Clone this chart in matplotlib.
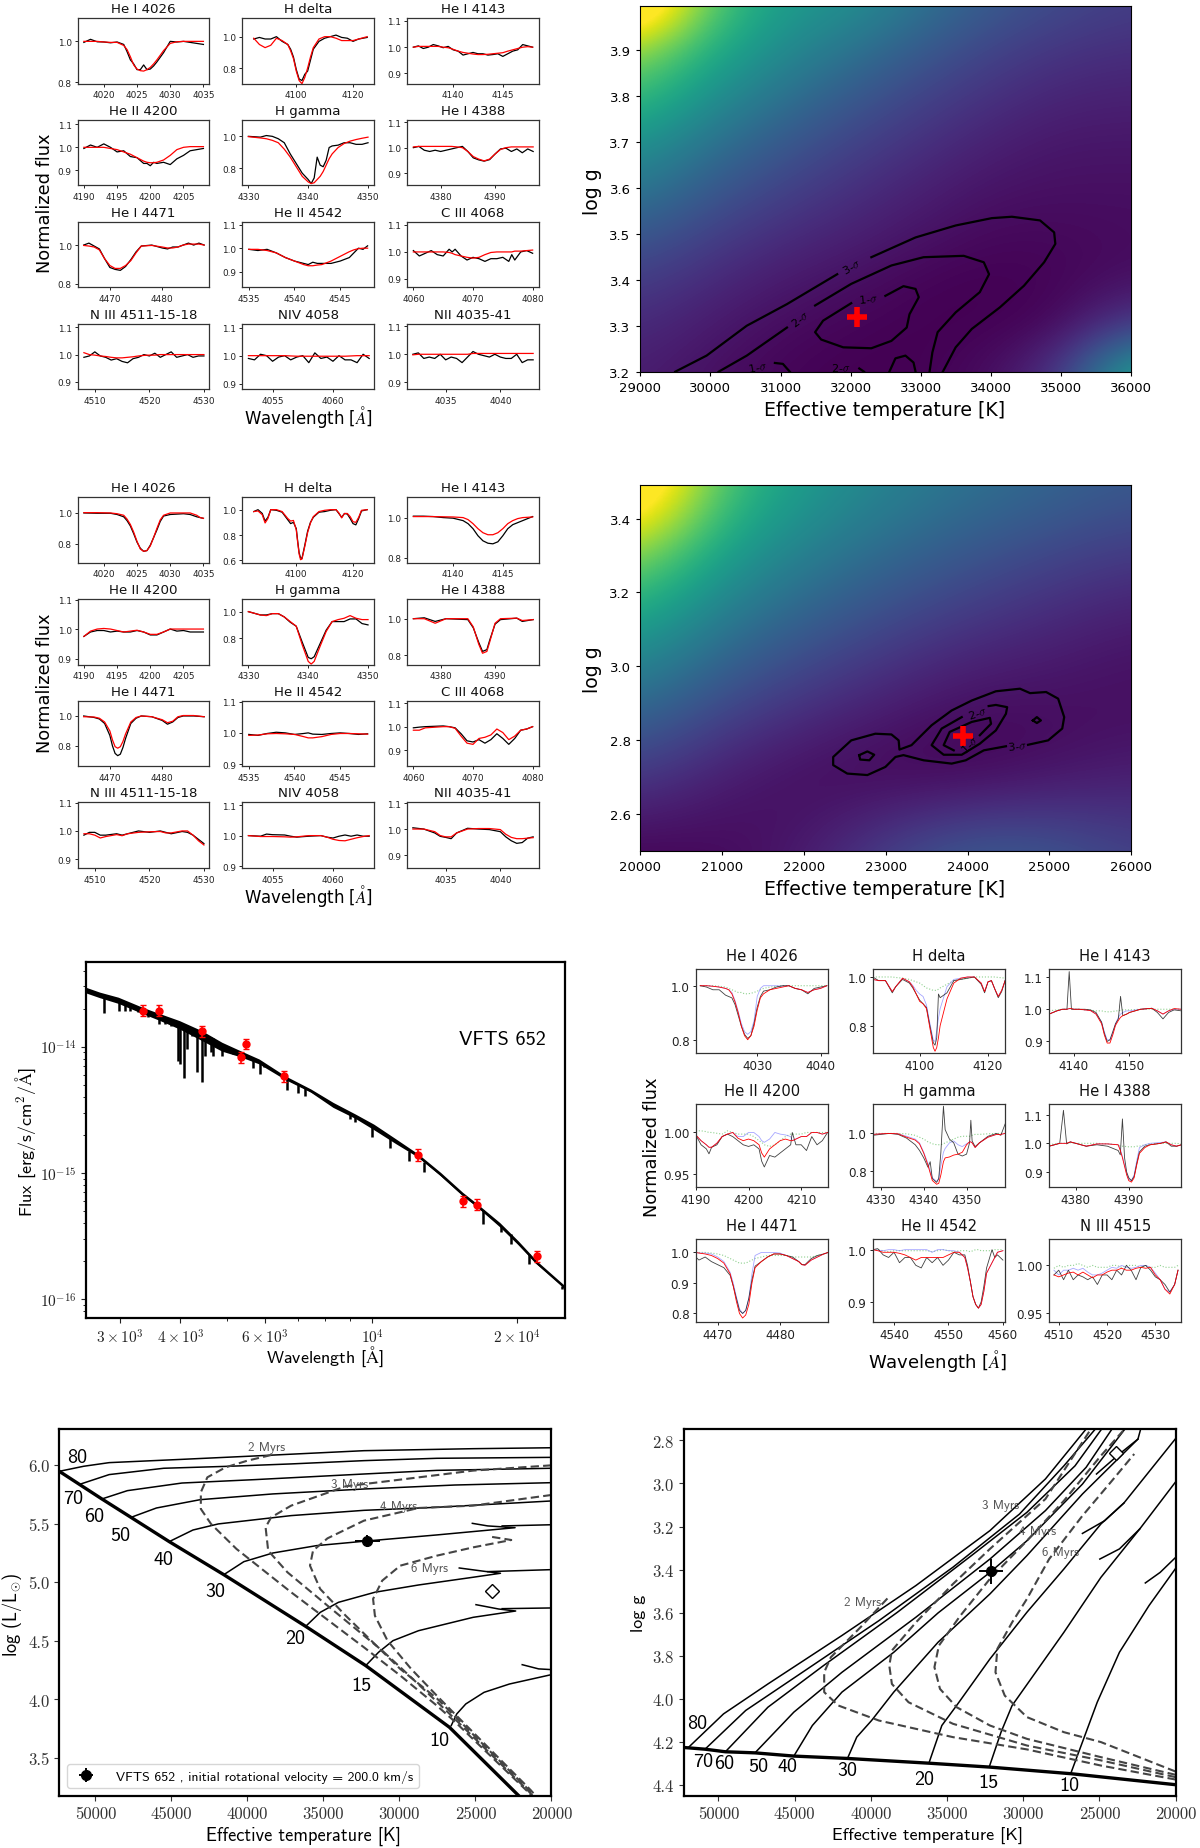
# Spectral fits, chi2 maps, SED and evolutionary tracks for two stars

import numpy as np
import matplotlib
matplotlib.use("Agg")
import matplotlib.pyplot as plt

plt.rcParams['mathtext.fontset'] = 'cm'

W, H = 1200, 1849

titles_a = ["He I 4026", "H delta", "He I 4143", "He II 4200", "H gamma", "He I 4388",
            "He I 4471", "He II 4542", "C III 4068", "N III 4511-15-18", "NIV 4058", "NII 4035-41"]
titles_c = ["He I 4026", "H delta", "He I 4143", "He II 4200", "H gamma", "He I 4388",
            "He I 4471", "He II 4542", "N III 4515"]

xlims_a = [(4016.1, 4035.9), (4081, 4127.4), (4135.4, 4148.6), (4189.1, 4208.9), (4329, 4351), (4373.9, 4398),
           (4463.9, 4489), (4534.3, 4548.7), (4059, 4081), (4506.9, 4531), (4052.5, 4063.4), (4031.5, 4043.5)]
xticks_a = [[4020, 4025, 4030, 4035], [4100, 4120], [4140, 4145], [4190, 4195, 4200, 4205], [4330, 4340, 4350], [4380, 4390],
            [4470, 4480], [4535, 4540, 4545], [4060, 4070, 4080], [4510, 4520, 4530], [4055, 4060], [4035, 4040]]
ylims_a = [(.792, 1.114), (.698, 1.119), (.86, 1.111), (.835, 1.12), (.694, 1.104), (.852, 1.11),
           (.783, 1.12), (.833, 1.113), (.869, 1.112), (.873, 1.113), (.88, 1.114), (.874, 1.11)]
ylims_b = [(.674, 1.104), (.579, 1.1), (.775, 1.102), (.879, 1.103), (.6, 1.0975), (.747, 1.11),
           (.664, 1.102), (.893, 1.103), (.832, 1.11), (.867, 1.102), (.893, 1.109), (.849, 1.103)]
yticks_a = [[.8, 1.0], [.8, 1.0], [.9, 1.0, 1.1], [.9, 1.0, 1.1], [.8, 1.0], [.9, 1.0, 1.1],
            [.8, 1.0], [.9, 1.0, 1.1], [.9, 1.0, 1.1], [.9, 1.0, 1.1], [.9, 1.0, 1.1], [.9, 1.0, 1.1]]
yticks_b = [[.8, 1.0], [.6, .8, 1.0], [.8, 1.0], [.9, 1.0, 1.1], [.8, 1.0], [.8, 1.0],
            [.8, 1.0], [.9, 1.0, 1.1], [.9, 1.0, 1.1], [.9, 1.0, 1.1], [.9, 1.0, 1.1], [.9, 1.0, 1.1]]

xlims_c = [(4020.3, 4041.2), (4086.3, 4125), (4135.6, 4159.3), (4190, 4215.1), (4328.1, 4359), (4375, 4399.9),
           (4466.5, 4487.7), (4536.1, 4560.4), (4508, 4535.4)]
xticks_c = [[4030, 4040], [4100, 4120], [4140, 4150], [4190, 4200, 4210], [4330, 4340, 4350], [4380, 4390],
            [4470, 4480], [4540, 4550, 4560], [4510, 4520, 4530]]
ylims_c = [(.752, 1.063), (.689, 1.034), (.865, 1.126), (.934, 1.035), (.717, 1.158), (.849, 1.138),
           (.773, 1.045), (.862, 1.021), (.941, 1.028)]
yticks_c = [[.8, 1.0], [.8, 1.0], [.9, 1.0, 1.1], [.95, 1.0], [.8, 1.0], [.9, 1.0, 1.1],
            [.8, .9, 1.0], [.9, 1.0], [.95, 1.0]]
ytickfmt_c = ['%.1f', '%.1f', '%.1f', '%.2f', '%.1f', '%.1f', '%.1f', '%.1f', '%.2f']

# first star, observed (obs) and model (fit)
a1_w = [4017, 4018, 4019, 4020, 4021, 4022, 4023, 4023.5, 4024, 4024.5, 4025, 4025.5, 4026, 4026.5, 4027, 4027.5, 4028, 4029, 4030, 4031, 4032, 4033, 4034, 4035]
a1_obs = [.995, 1.01, .998, .997, .993, .997, .985, .95, .91, .89, .862, .862, .885, .862, .865, .88, .9, .945, 1.0, .997, 1.0, .995, .99, .985]
a1_fit = [1, 1, 1, .997, .995, .995, .98, .96, .925, .885, .865, .857, .855, .862, .873, .89, .91, .955, .99, .998, 1, 1, 1, 1]
a2_w = [4085, 4087, 4089, 4091, 4093, 4095, 4097, 4098, 4099, 4100, 4101, 4102, 4103, 4104, 4105, 4106, 4108, 4110, 4112, 4114, 4116, 4118, 4120, 4122, 4125]
a2_obs = [.985, .995, .985, .985, 1.0, .97, .95, .92, .87, .79, .73, .72, .76, .78, .85, .92, .97, .99, 1.0, 1.01, .995, .99, .97, .985, .995]
a2_fit = [.99, .95, .93, .945, .99, .975, .95, .91, .86, .78, .72, .70, .74, .80, .87, .93, .985, 1.0, 1.0, .99, .975, .975, .975, .985, 1.0]
a3_w = [4136, 4136.5, 4137, 4137.5, 4138, 4138.5, 4139, 4139.5, 4140, 4140.5, 4141, 4141.5, 4142, 4142.5, 4143, 4143.5, 4144, 4144.5, 4145, 4145.5, 4146, 4146.5, 4147, 4147.5, 4148]
a3_obs = [1.0, 1.005, .995, 1.0, 1.01, 1.005, .998, 1.003, .99, .985, .97, .975, .98, .975, .975, .97, .972, .975, .965, .975, .985, .99, 1.01, 1.005, 1.0]
a3_fit = [1.0, 1.003, 1.003, 1.003, 1.003, 1.003, 1.0, .998, .992, .985, .98, .977, .974, .972, .972, .973, .975, .977, .979, .985, .99, .995, 1.0, 1.002, 1.0]
a4_w = [4190, 4191, 4192, 4193, 4194, 4195, 4196, 4197, 4198, 4199, 4199.5, 4200, 4200.5, 4201, 4202, 4203, 4204, 4205, 4206, 4207, 4208]
a4_obs = [.995, 1.01, 1.0, 1.015, 1.0, .98, .985, .96, .955, .93, .93, .92, .935, .93, .935, .925, .95, .965, .985, .99, .995]
a4_fit = [1, 1.0, 1.0, 1.0, .995, .99, .98, .97, .955, .94, .935, .933, .933, .935, .945, .965, .99, 1.0, 1.003, 1.003, 1.003]
a5_w = [4330, 4332, 4333, 4334, 4335, 4336, 4337, 4338, 4339, 4340, 4340.5, 4341, 4341.5, 4342, 4342.5, 4343, 4343.5, 4344, 4345, 4346, 4347, 4348, 4349, 4350]
a5_obs = [1.0, .995, 1.005, 1.0, .985, .96, .89, .83, .77, .73, .705, .74, .87, .82, .81, .85, .93, .94, .945, .96, .96, .95, .95, .96]
a5_fit = [.998, .99, .985, .975, .96, .92, .87, .81, .75, .715, .705, .71, .73, .75, .78, .82, .86, .89, .93, .955, .97, .98, .988, .995]
a6_w = [4375, 4376, 4377, 4378, 4379, 4380, 4381, 4382, 4383, 4384, 4385, 4386, 4387, 4388, 4389, 4390, 4391, 4392, 4393, 4394, 4395, 4396, 4397]
a6_obs = [1.0, 1.005, .99, .985, .99, .985, .99, .995, 1.0, 1.005, .985, .96, .952, .947, .953, .975, .995, .998, .985, .995, .98, .995, .985]
a6_fit = [1.003, 1.005, 1.005, 1.005, 1.005, 1.005, 1.005, 1.005, 1.003, 1.0, .985, .965, .955, .948, .955, .975, .993, 1.0, 1.003, 1.003, 1.003, 1.003, 1.003]
a7_w = [4465, 4466, 4467, 4468, 4469, 4470, 4471, 4472, 4473, 4474, 4475, 4476, 4478, 4480, 4481, 4482, 4483, 4484, 4485, 4486, 4487, 4488]
a7_obs = [1.0, 1.01, .995, .98, .93, .885, .875, .87, .89, .925, .965, .995, 1.0, .985, .98, .99, .99, 1.0, 1.01, 1.0, 1.01, 1.0]
a7_fit = [.998, .995, .99, .975, .93, .895, .88, .88, .895, .92, .96, .995, .998, .99, .985, .985, .99, 1.0, 1.005, 1.005, 1.005, 1.0]
a8_w = [4535, 4536, 4537, 4538, 4539, 4540, 4541, 4541.5, 4542, 4542.5, 4543, 4544, 4545, 4546, 4546.5, 4547, 4547.5, 4548]
a8_obs = [.995, .99, .995, .98, .96, .945, .935, .93, .94, .935, .935, .935, .945, .96, .98, 1.0, .995, 1.01]
a8_fit = [.995, .995, .99, .98, .96, .945, .93, .925, .925, .928, .93, .945, .965, .985, .993, .998, 1.0, 1.0]
a9_w = [4060, 4061, 4062, 4063, 4064, 4065, 4066, 4066.5, 4067, 4068, 4069, 4070, 4071, 4072, 4073, 4074, 4075, 4076, 4076.5, 4077, 4078, 4079, 4080]
a9_obs = [1.005, .985, .995, 1.005, .99, .985, 1.01, 1.0, 1.01, .985, .97, .98, .975, .965, .975, .975, .98, .965, .99, .97, 1.0, 1.005, .995]
a9_fit = [1.0, 1.0, 1.0, 1.0, 1.0, 1.0, .998, .995, .99, .985, .98, .977, .98, .99, .998, 1.0, 1.0, 1.0, 1.0, 1.003, 1.003, 1.005, 1.007]
a10_w = [4508, 4509, 4510, 4511, 4512, 4513, 4514, 4515, 4516, 4517, 4518, 4519, 4520, 4521, 4522, 4523, 4524, 4525, 4526, 4527, 4528, 4529, 4530]
a10_obs = [.99, .995, 1.01, .995, .99, .98, .985, .975, .97, .985, .99, 1.0, .995, 1.005, .99, 1.0, 1.01, .99, .995, 1.0, .99, .995, .995]
a10_fit = [1.007, 1.0, .998, .995, .993, .99, .988, .988, .99, .992, .995, .997, .998, .998, 1.0, 1.0, 1.0, 1.0, 1.0, 1.0, 1.0, 1.0, 1.0]
a11_w = [4053, 4053.5, 4054, 4054.5, 4055, 4055.5, 4056, 4056.5, 4057, 4057.5, 4058, 4058.5, 4059, 4059.5, 4060, 4060.5, 4061, 4061.5, 4062, 4062.5, 4063]
a11_obs = [.99, .985, 1.005, 1.0, .98, .995, 1.0, .985, .995, 1.0, .975, 1.01, .99, .995, .98, 1.0, .985, .985, .975, 1.005, .99]
a11_fit = [1.0, 1.0, 1.0, 1.0, 1.0, 1.0, 1.0, .999, .998, .998, .998, .998, .998, .998, .998, .998, .998, .999, 1.0, 1.0, 1.0]
a12_w = [4032, 4032.5, 4033, 4033.5, 4034, 4034.5, 4035, 4035.5, 4036, 4036.5, 4037, 4037.5, 4038, 4038.5, 4039, 4039.5, 4040, 4040.5, 4041, 4041.5, 4042, 4042.5, 4043]
a12_obs = [1.0, 1.005, .985, .99, .985, 1.0, .98, .99, .985, .97, .99, 1.01, 1.0, .995, .99, 1.0, .99, .985, .985, 1.0, .97, .98, .98]
a12_fit = [.998, 1.0, 1.0, 1.0, 1.0, 1.0, 1.0, 1.0, 1.0, 1.0, 1.0, 1.003, 1.003, 1.003, 1.003, 1.003, 1.003, 1.003, 1.003, 1.003, 1.003, 1.003, 1.003]

# second star
b1_w = [4017, 4019, 4021, 4022, 4023, 4023.5, 4024, 4024.5, 4025, 4025.5, 4026, 4026.5, 4027, 4027.5, 4028, 4028.5, 4029, 4030, 4032, 4033, 4034, 4034.5, 4035]
b1_obs = [1.0, .998, .998, .99, .975, .95, .915, .865, .81, .77, .75, .755, .79, .84, .89, .945, .98, .99, .995, .99, .975, .97, .965]
b1_fit = [1.002, 1.002, 1.0, .995, .985, .96, .925, .875, .815, .765, .75, .755, .785, .84, .9, .955, .985, 1.0, 1.0, 1.0, .985, .97, .965]
b2_w = [4085, 4086.5, 4088, 4089, 4090, 4091, 4093, 4095, 4097, 4098, 4099, 4100, 4100.5, 4101, 4101.5, 4102, 4103, 4104, 4105, 4106, 4108, 4110, 4112, 4114, 4115, 4116, 4117, 4118, 4119, 4120, 4121, 4122, 4123, 4125]
b2_obs = [.985, 1.0, .97, .91, .94, 1.0, .995, .98, .92, .89, .9, .85, .75, .66, .62, .615, .72, .83, .9, .94, .98, .985, .995, 1.0, .97, .94, .97, .965, .93, .89, .88, .93, .99, 1.0]
b2_fit = [.985, .99, .96, .895, .93, 1.0, 1.0, .985, .93, .91, .915, .84, .74, .65, .605, .61, .71, .82, .895, .945, .985, .995, 1.0, 1.0, .975, .935, .97, .97, .945, .905, .9, .94, .995, 1.0]
b3_w = [4136, 4137, 4138, 4139, 4140, 4141, 4141.5, 4142, 4142.5, 4143, 4143.5, 4144, 4144.5, 4145, 4145.5, 4146, 4146.5, 4147, 4148]
b3_obs = [1.007, 1.007, 1.005, 1.0, .997, .985, .97, .945, .91, .885, .873, .87, .88, .91, .945, .965, .975, .985, 1.005]
b3_fit = [1.005, 1.005, 1.005, 1.004, 1.003, 1.0, .99, .97, .945, .925, .915, .915, .925, .945, .97, .985, .995, 1.0, 1.003]
b4_w = [4190, 4191, 4192, 4193, 4194, 4195, 4196, 4197, 4198, 4199, 4200, 4201, 4202, 4203, 4204, 4205, 4206, 4207, 4208]
b4_obs = [.975, .99, .995, .995, .99, .993, .99, .99, .995, .99, .98, .98, .99, 1.0, .993, .995, .99, .99, .99]
b4_fit = [.975, .993, 1.0, 1.002, 1.0, .995, .99, .993, .996, .99, .982, .982, .99, 1.0, 1.0, 1.0, 1.0, 1.0, 1.0]
b5_w = [4330, 4332, 4333, 4334, 4335, 4336, 4337, 4338, 4339, 4340, 4340.5, 4341, 4342, 4343, 4344, 4345, 4346, 4347, 4348, 4349, 4350]
b5_obs = [1.0, .975, .975, .985, .985, .96, .92, .89, .77, .655, .645, .66, .76, .86, .925, .925, .925, .945, .945, .91, .9]
b5_fit = [1.0, .975, .97, .985, .985, .96, .925, .89, .75, .625, .605, .625, .74, .85, .925, .94, .95, .97, .95, .94, .94]
b6_w = [4375, 4377, 4379, 4381, 4385, 4386, 4387, 4387.7, 4388.5, 4389, 4390, 4391, 4394, 4395, 4397]
b6_obs = [1.0, 1.005, .985, 1.0, .995, .95, .87, .82, .83, .88, .97, .995, 1.003, .985, .995]
b6_fit = [1.0, 1.0, .975, 1.0, 1.0, .955, .86, .81, .82, .87, .975, 1.0, 1.003, .99, .995]
b7_w = [4465, 4467, 4468, 4469, 4470, 4470.5, 4471, 4471.5, 4472, 4472.5, 4473, 4474, 4475, 4476, 4478, 4480, 4481, 4482, 4483, 4484, 4486, 4488]
b7_obs = [1.0, .99, .98, .95, .87, .8, .75, .735, .745, .79, .85, .95, .985, 1.0, .995, .97, .945, .96, .99, 1.0, 1.0, .995]
b7_fit = [.995, .993, .985, .96, .9, .84, .795, .785, .795, .83, .88, .96, .99, 1.0, .995, .975, .955, .965, .995, 1.003, 1.003, .995]
b8_w = [4535, 4536, 4537, 4538, 4539, 4540, 4541, 4541.5, 4542, 4543, 4544, 4545, 4546, 4547, 4548]
b8_obs = [.995, .992, .998, 1.002, 1.0, .995, .998, 1.0, .996, .995, .998, 1.0, .998, .995, .997]
b8_fit = [.992, .993, .997, .998, .997, .995, .988, .984, .984, .988, .995, .998, .998, .997, .996]
b9_w = [4060, 4061, 4062, 4065, 4066, 4067, 4068, 4069, 4070, 4071, 4072, 4073, 4074, 4075, 4076, 4077, 4078, 4079, 4080]
b9_obs = [.995, .998, 1.0, 1.003, 1.0, .995, .97, .94, .935, .945, .93, .945, .97, .95, .925, .95, .985, .99, 1.0]
b9_fit = [.985, .985, .995, 1.0, 1.0, .993, .96, .93, .925, .95, .955, .965, .99, .975, .945, .96, .985, .99, 1.0]
b10_w = [4508, 4509, 4510, 4511, 4512, 4514, 4515, 4516, 4518, 4520, 4522, 4523, 4524, 4526, 4527, 4528, 4529, 4530]
b10_obs = [.985, .995, .995, .985, .985, .99, .985, .99, 1.0, .995, 1.0, .995, .99, .998, .995, .985, .97, .955]
b10_fit = [.99, .99, .985, .975, .98, .987, .983, .99, .995, .997, .998, .993, .993, 1.0, 1.0, .985, .965, .95]
b11_w = [4053, 4054, 4054.5, 4055, 4056, 4056.5, 4057, 4058, 4059, 4059.5, 4060, 4060.5, 4061, 4061.5, 4062, 4062.5, 4063]
b11_obs = [1.0, .998, 1.005, 1.003, 1.002, .998, .995, .998, 1.0, .995, .992, .998, 1.002, .998, 1.002, .998, .998]
b11_fit = [1.0, .997, .997, .997, .996, .995, .996, 1.0, 1.0, .995, .988, .984, .983, .988, .993, .997, 1.0]
b12_w = [4032, 4033, 4034, 4034.5, 4035, 4035.5, 4036, 4037, 4038, 4039, 4040, 4040.5, 4041, 4041.5, 4042, 4042.5, 4043]
b12_obs = [1.005, 1.0, .985, .972, .968, .963, .985, 1.003, 1.0, .998, .99, .97, .955, .945, .948, .965, .97]
b12_fit = [1.0, 1.0, .99, .975, .97, .97, .985, 1.0, 1.002, 1.002, .998, .98, .968, .963, .963, .965, .967]

# binary model grid: observed, total model, primary, secondary
c1_w = [4021, 4022, 4023, 4024, 4025, 4025.5, 4026, 4026.5, 4027, 4027.5, 4028, 4028.5, 4029, 4029.5, 4030, 4030.5, 4031, 4032, 4033, 4034, 4035, 4036, 4037, 4038, 4039, 4040, 4041]
c1_obs = [1.0, .995, .985, .985, .965, .96, .955, .93, .89, .85, .82, .805, .815, .86, .92, .96, .98, .985, .995, 1.0, 1.0, .99, .985, .97, .99, .995, 1.0]
c1_red = [1, 1, .998, .995, .99, .985, .97, .94, .9, .85, .815, .8, .815, .85, .91, .955, .97, .985, .99, .995, 1, .99, .985, .975, .985, .99, 1.0]
c1_blue = [1, 1, .998, .995, .99, .985, .975, .945, .905, .86, .83, .82, .83, .87, .96, .99, 1.0, 1.0, 1.0, .998, 1, .99, .985, .975, .985, .99, 1.0]
c1_green = [1.0, 1.0, 1.0, .998, .995, .99, .985, .98, .975, .975, .97, .97, .972, .975, .98, .985, .99, .995, .998, 1, 1, 1, 1, 1, 1, 1, 1]
c2_w = [4086.3, 4088, 4090, 4092, 4093, 4095, 4097, 4098, 4099, 4100, 4101, 4102, 4103, 4104, 4104.5, 4105, 4105.5, 4106, 4108, 4110, 4112, 4114, 4116, 4118, 4119, 4120, 4121, 4122, 4123, 4124, 4125]
c2_obs = [1.0, .985, .985, .935, .96, .99, .975, .955, .93, .905, .89, .875, .8, .73, .72, .75, .93, .915, .935, .985, .99, .995, 1.0, .97, .935, .98, .985, .95, .915, .94, .985]
c2_red = [.99, .985, .985, .94, .96, .995, .98, .96, .93, .9, .89, .87, .79, .71, .695, .71, .75, .8, .91, .975, .995, 1.0, 1.0, .975, .94, .98, .985, .95, .92, .945, .985]
c2_blue = [.99, .985, .985, .94, .96, .995, .98, .965, .945, .93, .92, .885, .81, .74, .735, .78, .83, .87, .96, .99, .995, 1.0, 1.0, .975, .94, .98, .985, .95, .92, .945, .985]
c2_green = [1.0, 1.0, 1.0, 1, .998, .995, .99, .985, .98, .975, .965, .955, .95, .945, .945, .945, .95, .955, .97, .985, .99, .995, 1, 1, 1, 1, 1, 1, .998, .997, .995]
c3_w = [4135.6, 4137, 4138, 4138.8, 4139.2, 4139.6, 4140, 4141, 4142, 4143, 4144, 4145, 4145.5, 4146, 4146.5, 4147, 4147.5, 4148, 4148.4, 4148.8, 4149.5, 4150, 4152, 4154, 4155, 4156, 4157, 4158, 4159.3]
c3_obs = [.985, .995, 1.0, 1.0, 1.117, 1.0, 1.0, 1.0, 1.0, .998, .99, .96, .925, .9, .905, .93, .955, .97, 1.04, .98, .985, .99, 1.0, 1.003, .99, .97, .99, .998, .995]
c3_red = [.985, .995, 1.0, 1.0, 1.002, 1.002, 1.0, 1.0, .998, .996, .985, .955, .92, .895, .895, .92, .95, .965, .975, .98, .985, .99, 1.0, 1.003, .995, .985, .995, 1.002, 1.0]
c3_blue = [.985, .995, 1.0, 1.0, 1.002, 1.002, 1.0, 1.0, .998, .996, .985, .96, .93, .905, .905, .925, .955, .975, .985, .99, .995, .995, 1.0, 1.003, .995, .985, .995, 1.0, 1.0]
c3_green = [.995, .998, 1.0, 1.0, 1.002, 1.002, 1.0, 1.0, .998, .997, .995, .995, .993, .992, .992, .993, .995, .995, .997, .998, .998, .998, 1.0, 1.0, 1.0, 1.0, 1.0, 1.0, 1.0]
c4_w = [4190, 4191, 4192, 4192.5, 4193, 4194, 4195, 4196, 4197, 4198, 4199, 4200, 4201, 4202, 4202.5, 4203, 4204, 4205, 4206, 4207, 4208, 4208.3, 4209, 4210, 4211, 4212, 4213, 4214, 4215]
c4_obs = [.997, .985, .98, .974, .982, .985, .995, .998, .995, .99, .985, .983, .985, .98, .965, .958, .972, .97, .975, .98, .985, 1.0, .985, .985, .978, .995, .985, .99, 1.0]
c4_red = [.997, .99, .985, .982, .982, .987, .995, .998, 1.0, .993, .99, .992, .99, .985, .975, .97, .98, .985, .99, .992, .99, .99, .992, .995, .995, 1.0, 1.0, .998, 1.0]
c4_blue = [.997, .99, .985, .982, .982, .987, .995, .998, 1.0, .995, .995, 1.0, 1.0, .995, .99, .988, .992, 1.0, .998, .997, .995, .99, .992, .995, .995, 1.0, 1.0, .998, 1.0]
c4_green = [1.002, 1.002, 1.001, 1.0, 1.0, .999, .998, 1.002, 1.0, .998, .998, .998, .995, .99, .988, .985, .983, .985, .99, .995, .998, .998, .998, .998, 1.0, 1.0, 1.0, 1.0, 1.0]
c5_w = [4328.1, 4330, 4332, 4334, 4336, 4338, 4339, 4340, 4341, 4341.5, 4342, 4343, 4343.5, 4344, 4344.6, 4345, 4346, 4347, 4348, 4349, 4350, 4350.7, 4351, 4351.3, 4352, 4353, 4355, 4357, 4358, 4359]
c5_obs = [.99, .995, 1.0, .995, .975, .94, .91, .87, .82, .85, .76, .74, .76, .9, 1.145, 1.02, .97, .95, .89, .88, .89, .95, 1.07, .96, .93, .95, .985, 1.0, .99, 1.05]
c5_red = [.995, .998, 1.0, .998, .98, .965, .945, .895, .83, .79, .75, .73, .735, .78, .85, .87, .875, .885, .89, .9, .94, .955, .955, .95, .925, .95, .98, .995, .995, 1.0]
c5_blue = [.995, .998, 1.0, .998, .985, .97, .95, .9, .84, .8, .765, .745, .76, .83, .9, .92, .95, .96, .94, .93, .945, .955, .955, .95, .925, .95, .98, .995, .995, 1.0]
c5_green = [1, 1, 1, 1, .998, .99, .98, .97, .955, .95, .945, .94, .94, .94, .945, .95, .96, .97, .98, .985, .985, .985, .99, .99, .995, .995, .998, 1, 1, 1]
c6_w = [4375, 4376, 4377, 4377.7, 4378.3, 4379, 4380, 4382, 4384, 4386, 4388, 4388.4, 4388.8, 4389.2, 4389.6, 4390, 4390.5, 4391, 4391.5, 4392, 4393, 4394, 4396, 4397, 4398, 4399, 4399.9]
c6_obs = [.99, .995, 1.0, 1.115, .998, 1.005, 1.0, .99, .995, .99, .975, .96, 1.085, .95, .9, .88, .87, .885, .93, .97, .99, .995, 1.0, 1.005, .99, .99, .995]
c6_red = [.99, .995, 1.0, 1.0, 1.0, 1.005, 1.0, .99, .998, .998, .995, .975, .95, .92, .89, .87, .865, .88, .925, .965, .985, .995, 1.0, 1.005, .995, .99, .995]
c6_blue = [.99, .995, 1.0, 1.0, 1.0, 1.005, 1.0, .99, .998, .998, .995, .98, .955, .925, .895, .875, .87, .89, .94, .985, .995, 1.0, 1.003, 1.005, .995, .99, .995]
c6_green = [.995, .998, 1.0, 1.0, 1.0, 1.002, 1.0, 1.0, 1.0, .998, .995, .99, .99, .99, .988, .988, .988, .988, .99, .99, .995, .998, 1.0, 1.0, 1.0, 1.0, .998]
c7_w = [4466.5, 4467, 4468, 4469, 4470, 4471, 4472, 4472.5, 4473, 4473.5, 4474, 4474.5, 4475, 4475.5, 4476, 4477, 4478, 4479, 4480, 4481, 4482, 4483, 4483.5, 4484, 4485, 4486, 4487, 4487.7]
c7_obs = [.985, .975, .985, .97, .96, .95, .925, .89, .85, .81, .8, .81, .85, .91, .955, .97, .985, .995, .995, .99, .985, .97, .96, .96, .98, .99, .995, 1.0]
c7_red = [1.0, .998, .995, .99, .98, .965, .93, .89, .84, .8, .785, .795, .83, .9, .95, .97, .985, .995, .995, .99, .98, .97, .96, .958, .975, .985, .995, 1.0]
c7_blue = [1.0, .998, .998, .995, .985, .97, .935, .9, .855, .815, .8, .81, .85, .93, .99, 1.0, 1.0, 1.0, .998, .99, .98, .97, .96, .958, .975, .985, .995, 1.0]
c7_green = [1, 1, 1, .998, .995, .99, .98, .975, .97, .965, .965, .965, .97, .975, .98, .985, .99, .99, .99, .99, .985, .985, .985, .985, .985, .99, .995, 1.0]
c8_w = [4536.1, 4537, 4538, 4539, 4540, 4541, 4542, 4543, 4544, 4545, 4546, 4547, 4548, 4549, 4550, 4551, 4552, 4553, 4553.5, 4554, 4554.5, 4555, 4555.5, 4556, 4556.5, 4557, 4558, 4558.5, 4559, 4560]
c8_obs = [1.0, 1.002, .99, .985, .995, .975, .985, .985, .97, .965, .985, .975, .985, .97, .98, .995, .99, .99, .97, .94, .91, .895, .888, .9, .93, .965, 1.0, .985, .99, .98]
c8_red = [1.0, .998, .995, .995, .995, .993, .99, .985, .98, .985, .985, .985, .985, .985, .99, .995, .995, .985, .965, .94, .91, .895, .888, .895, .92, .955, .975, .985, .995, .998]
c8_blue = [1.0, .999, .998, 1.0, 1.0, .998, 1.0, 1.0, 1.0, 1.0, 1.0, .995, 1.0, 1.0, .998, .998, .995, .985, .965, .94, .91, .895, .888, .895, .92, .955, .975, .985, .995, .998]
c8_green = [.998, 1.0, .998, .996, .998, .998, .998, .998, .998, .998, .998, .996, .998, 1.0, .998, .996, .998, .998, .998, .996, .998, 1.0, 1.0, .998, .998, .998, .998, 1.0, 1.0, 1.0]
c9_w = [4509, 4510, 4511, 4512, 4513, 4514, 4515, 4516, 4517, 4518, 4519, 4520, 4521, 4522, 4523, 4524, 4525, 4526, 4527, 4528, 4529, 4530, 4531, 4532, 4533, 4534, 4534.7]
c9_obs = [.99, .995, .985, .995, .985, .99, .988, .985, .988, .98, .99, .99, .985, .995, .99, 1.0, .995, .985, .998, 1.0, .995, .988, .985, .98, .972, .98, .995]
c9_red = [.99, .988, .99, .992, .993, .99, .993, .99, .987, .99, .99, .993, .995, .995, .997, .995, .995, .997, .998, .997, .998, .99, .985, .975, .97, .98, .995]
c9_blue = [.995, .99, .995, .995, .997, .995, .997, .993, .99, .99, .992, .995, .998, .997, 1.0, .998, .997, .998, 1.0, 1.0, .998, .992, .985, .975, .972, .98, .995]
c9_green = [.997, 1.0, .998, 1.0, 1.0, 1.002, 1.0, .998, 1.0, .998, .998, .998, 1.0, 1.0, .998, 1.0, 1.0, 1.0, .998, 1.0, .998, .998, 1.0, .998, .998, .998, 1.0]

# chi2 maps, scaled 0-1 (corner above 1 so the yellow survives the smoothing)
map1_t = [29000, 30000, 31000, 32000, 33000, 34000, 35000, 36000]
map1_g = [4.0, 3.9, 3.8, 3.7, 3.6, 3.5, 3.4, 3.3, 3.2]
map1_row0 = [1.25, .75, .55, .5, .38, .28, .22, .18]
map1_row1 = [.85, .62, .48, .38, .28, .2, .15, .13]
map1_row2 = [.68, .5, .38, .28, .2, .14, .1, .09]
map1_row3 = [.52, .38, .28, .2, .14, .09, .06, .06]
map1_row4 = [.4, .28, .2, .14, .09, .05, .04, .04]
map1_row5 = [.28, .19, .13, .09, .05, .02, .02, .03]
map1_row6 = [.18, .12, .07, .04, .01, 0, .01, .04]
map1_row7 = [.12, .07, .03, .01, 0, 0, .02, .18]
map1_row8 = [.08, .04, .01, 0, 0, .03, .15, .6]
map2_t = [20000, 21000, 22000, 23000, 24000, 25000, 26000]
map2_g = [3.49, 3.3, 3.1, 2.9, 2.7, 2.5]
map2_row0 = [1.25, .72, .55, .45, .38, .33, .28]
map2_row1 = [.8, .55, .42, .33, .26, .2, .16]
map2_row2 = [.55, .38, .28, .2, .14, .1, .06]
map2_row3 = [.35, .22, .14, .08, .03, .03, .03]
map2_row4 = [.16, .07, .02, 0, 0, .04, .08]
map2_row5 = [0, .02, .07, .2, .3, .28, .2]

# contour lines
m1_3s_t1 = [29498, 29945, 30518, 31091, 31807]
m1_3s_g1 = [3.2, 3.235, 3.3, 3.347, 3.412]
m1_3s_t2 = [32294, 32924, 33496, 34012, 34298, 34699, 34900, 34917, 34757, 34470, 34127, 33726, 33496, 33313]
m1_3s_g2 = [3.449, 3.492, 3.518, 3.534, 3.537, 3.529, 3.503, 3.478, 3.438, 3.387, 3.34, 3.293, 3.253, 3.2]
m1_2s_t1 = [30117, 30518, 31091]
m1_2s_g1 = [3.2, 3.235, 3.296]
m1_2s_t2 = [31492, 32007, 32580, 33038, 33611, 33897, 33972, 33840, 33496, 33239, 33164, 33124]
m1_2s_g2 = [3.344, 3.391, 3.431, 3.449, 3.452, 3.438, 3.412, 3.373, 3.329, 3.286, 3.242, 3.2]
m1_1s_t = [32494, 32752, 32924, 32970, 32838, 32798, 32580, 32294, 31893, 31578, 31492, 31606, 32007]
m1_1s_g = [3.365, 3.386, 3.38, 3.362, 3.325, 3.296, 3.267, 3.251, 3.253, 3.27, 3.286, 3.311, 3.349]
m1_1b_t = [30919, 31033, 31131]
m1_1b_g = [3.219, 3.217, 3.2]
m1_2b_t = [32122, 32190]
m1_2b_g = [3.207, 3.2]
m1_loop_t = [32551, 32637, 32780, 32895, 32924]
m1_loop_g = [3.2, 3.229, 3.235, 3.22, 3.2]
m2_3s_t = [24738, 24984, 25156, 25180, 25106, 24959, 24763, 24640, 24345, 24051, 23805, 23560, 23314, 23167, 23157, 23069, 22872, 22578, 22357, 22357, 22529, 22775, 22995, 23118, 23216, 23462, 23805, 23977, 24198, 24468]
m2_3s_g = [2.787, 2.799, 2.831, 2.862, 2.912, 2.93, 2.927, 2.939, 2.932, 2.907, 2.88, 2.84, 2.786, 2.774, 2.799, 2.815, 2.817, 2.799, 2.754, 2.732, 2.709, 2.705, 2.727, 2.754, 2.759, 2.745, 2.736, 2.745, 2.772, 2.783]
m2_loopa_t = [22676, 22775, 22858, 22799, 22686, 22676]
m2_loopa_g = [2.759, 2.769, 2.76, 2.745, 2.747, 2.759]
m2_loopb_t = [24797, 24846, 24895, 24846, 24797]
m2_loopb_g = [2.853, 2.862, 2.853, 2.846, 2.853]
m2_2s_t = [24257, 24345, 24483, 24468, 24345, 24149, 23928, 23707, 23560, 23683, 23928]
m2_2s_g = [2.892, 2.895, 2.889, 2.871, 2.826, 2.79, 2.76, 2.76, 2.786, 2.831, 2.862]
m2_1s_t = [23830, 23707, 23781, 24051, 24272, 24286, 24149]
m2_1s_g = [2.772, 2.786, 2.822, 2.849, 2.86, 2.844, 2.813]
best1 = (32093, 3.318)
best2 = (23938, 2.81)

# SED: upper and lower edge of the model band, deep lines, photometry
sed_wave = [2549, 2721, 2972, 3334, 3611, 3980, 4425, 4877, 5329, 5821, 6588, 7456, 8292, 9219, 10071, 11200, 12450, 13850, 15400, 16520, 18370, 20070, 21930, 25080]
sed_flux = [2.86e-14, 2.62e-14, 2.39e-14, 1.99e-14, 1.78e-14, 1.56e-14, 1.30e-14, 1.05e-14, 9.0e-15, 7.75e-15, 5.71e-15, 4.48e-15, 3.51e-15, 2.84e-15, 2.36e-15, 1.80e-15, 1.37e-15, 9.8e-16, 6.8e-16, 5.5e-16, 3.93e-16, 2.81e-16, 1.95e-16, 1.24e-16]
sed_low = [2.66e-14, 2.44e-14, 2.2e-14, 1.83e-14, 1.62e-14, 1.38e-14, 1.12e-14, 9.2e-15, 8.3e-15, 7.3e-15, 5.5e-15, 4.35e-15, 3.3e-15, 2.7e-15, 2.2e-15, 1.7e-15, 1.33e-15, 9.5e-16, 6.6e-16, 5.35e-16, 3.75e-16, 2.7e-16, 1.9e-16, 1.22e-16]
line_logw = [3.4432, 3.4754, 3.4869, 3.4977, 3.5131, 3.5346, 3.5576, 3.5691, 3.5822, 3.596, 3.6021, 3.6091, 3.6152, 3.6267, 3.6359, 3.6475, 3.6536, 3.6651, 3.6705, 3.6882, 3.7112, 3.7535, 3.7673, 3.7765, 3.8226, 3.8464, 3.8602, 3.9224, 3.9531, 3.9647, 4.0, 4.0376, 4.0768, 4.1068, 4.2296, 4.268, 4.2873, 4.3257, 4.3948]
line_top = [-13.596, -13.627, -13.643, -13.662, -13.688, -13.717, -13.749, -13.77, -13.791, -13.812, -13.823, -13.834, -13.841, -13.86, -13.876, -13.892, -13.902, -13.926, -13.934, -13.979, -14.018, -14.092, -14.119, -14.137, -14.256, -14.304, -14.33, -14.462, -14.534, -14.56, -14.621, -14.719, -14.83, -14.917, -15.295, -15.419, -15.485, -15.643, -15.894]
line_low = [-13.733, -13.715, -13.715, -13.715, -13.728, -13.768, -13.82, -13.82, -13.834, -14.111, -14.137, -14.251, -14.018, -13.913, -14.203, -14.277, -14.071, -14.045, -14.071, -14.071, -14.058, -14.172, -14.217, -14.164, -14.346, -14.367, -14.388, -14.481, -14.573, -14.6, -14.719, -14.806, -14.904, -14.996, -15.406, -15.472, -15.564, -15.723, -15.921]
phot_wave = [3341, 3618, 4425, 5347, 5462, 6551, 12474, 15424, 16496, 21970]
phot_flux = [1.93e-14, 1.93e-14, 1.32e-14, 8.2e-15, 1.05e-14, 5.82e-15, 1.39e-15, 5.94e-16, 5.6e-16, 2.2e-16]
phot_err = [1.9e-15, 1.9e-15, 1.3e-15, 8e-16, 1.0e-15, 5.8e-16, 1.4e-16, 6e-17, 5.6e-17, 2.2e-17]

# HR diagram
hr_zams_t = [52370, 49569, 47654, 45140, 41549, 36163, 32213, 26707, 22158]
hr_zams_l = [5.946, 5.71, 5.553, 5.346, 5.064, 4.623, 4.288, 3.762, 3.179]
hr80_t = [52370, 50766, 49090, 44302, 39514, 32332, 25150, 20000]
hr80_l = [5.946, 5.989, 6.02, 6.048, 6.077, 6.122, 6.139, 6.147]
hr70_t = [50958, 49090, 45500, 41190, 37120, 32330, 27540, 20000]
hr70_l = [5.838, 5.918, 5.972, 5.989, 6.009, 6.037, 6.057, 6.065]
hr60_t = [49569, 47890, 44300, 39510, 32330, 27540, 20000]
hr60_l = [5.71, 5.781, 5.846, 5.875, 5.923, 5.954, 5.972]
hr50_t = [47654, 45980, 43100, 38320, 32330, 26350, 20000]
hr50_l = [5.553, 5.633, 5.704, 5.753, 5.795, 5.829, 5.849]
hr40_t = [45140, 43580, 41910, 37120, 32330, 27540, 20000]
hr40_l = [5.346, 5.445, 5.497, 5.568, 5.613, 5.639, 5.693]
hr30_t = [41549, 40230, 38320, 35440, 32090, 27540, 22390, 24190, 25200]
hr30_l = [5.064, 5.175, 5.249, 5.312, 5.352, 5.403, 5.465, 5.48, 5.502]
hr30b_t = [23240, 20000]
hr30b_l = [5.48, 5.49]
hr20_t = [36163, 35200, 34010, 31610, 28740, 25150, 23350, 24430, 26060]
hr20_l = [4.623, 4.743, 4.828, 4.914, 4.976, 5.042, 5.076, 5.093, 5.121]
hr20b_t = [24190, 20000]
hr20b_l = [5.09, 5.107]
hr15_t = [32213, 31370, 30420, 28740, 25150, 22350, 23470, 24960]
hr15_l = [4.288, 4.402, 4.501, 4.586, 4.7, 4.754, 4.771, 4.808]
hr15b_t = [23240, 20000]
hr15b_l = [4.774, 4.78]
hr10_t = [26590, 26230, 25630, 24430, 22760, 20000]
hr10_l = [3.776, 3.875, 3.961, 4.06, 4.131, 4.211]
hr10b_t = [21920, 20840, 20000]
hr10b_l = [4.296, 4.26, 4.254]
hr_2my_t = [38437, 39990, 41430, 42630, 43060, 43060, 42390, 40710, 37120, 32330, 29940, 27540, 26350, 21560, 21200]
hr_2my_l = [6.085, 6.037, 5.98, 5.895, 5.767, 5.625, 5.497, 5.283, 4.914, 4.444, 4.203, 3.947, 3.81, 3.213, 3.16]
hr_3my_t = [20000, 25150, 29940, 33530, 37120, 38437, 38800, 38630, 37360, 34730, 31130, 29940, 27540, 26350, 21510, 21150]
hr_3my_l = [5.997, 5.952, 5.875, 5.818, 5.653, 5.553, 5.468, 5.269, 5.084, 4.8, 4.416, 4.274, 3.981, 3.833, 3.218, 3.165]
hr_4my_t = [20000, 25150, 28740, 32330, 34730, 35680, 35880, 35210, 33530, 29940, 27540, 26350, 21440, 21080]
hr_4my_l = [5.744, 5.653, 5.633, 5.525, 5.374, 5.269, 5.141, 4.942, 4.714, 4.259, 4.009, 3.856, 3.221, 3.168]
hr_6my_t = [23900, 22640, 25150, 27540, 29940, 31130, 31730, 31610, 30780, 29220, 27540, 26350, 21370, 21010]
hr_6my_l = [5.386, 5.36, 5.297, 5.226, 5.141, 5.013, 4.857, 4.714, 4.501, 4.259, 4.032, 3.875, 3.227, 3.174]
hr_mass = ["80", "70", "60", "50", "40", "30", "20", "15", "10"]
hr_mass_t = [51173, 51436, 50072, 48348, 45547, 42100, 36833, 32476, 27353]
hr_mass_l = [6.065, 5.716, 5.568, 5.403, 5.195, 4.928, 4.524, 4.123, 3.654]
ages = ["2 Myrs", "3 Myrs", "4 Myrs", "6 Myrs"]
hr_age_t = [38720, 33290, 30060, 28020]
hr_age_l = [6.15, 5.838, 5.647, 5.118]

# Kiel diagram
kl_zams_t = [52281, 50874, 49539, 47597, 45050, 41530, 36190, 32230, 26850, 20000]
kl_zams_g = [4.226, 4.234, 4.246, 4.251, 4.266, 4.277, 4.299, 4.317, 4.348, 4.399]
kl80_t = [51966, 49660, 46748, 41894, 37040, 32186, 28545, 25876]
kl80_g = [4.226, 4.07, 3.931, 3.706, 3.474, 3.219, 2.979, 2.747]
kl70_t = [50874, 48204, 44321, 39467, 34613, 30244, 27332, 25269]
kl70_g = [4.234, 4.054, 3.869, 3.637, 3.389, 3.142, 2.918, 2.747]
kl60_t = [49539, 46748, 43107, 38253, 33399, 29759, 26604, 24856]
kl60_g = [4.246, 4.039, 3.846, 3.598, 3.335, 3.134, 2.918, 2.747]
kl50_t = [47597, 45049, 41894, 37040, 32186, 28545, 25876, 24177]
kl50_g = [4.251, 4.062, 3.877, 3.621, 3.351, 3.126, 2.925, 2.747]
kl40_t = [45049, 43835, 41894, 38496, 35584, 32186, 29759, 26118, 23328]
kl40_g = [4.266, 4.124, 3.969, 3.784, 3.601, 3.413, 3.266, 3.003, 2.747]
kl30_t = [41530, 40923, 39952, 38496, 35584, 32186, 29759, 26118, 22478, 22308]
kl30_g = [4.277, 4.178, 4.101, 3.969, 3.737, 3.513, 3.335, 3.049, 2.794, 2.75]
kl30b_t = [22478, 23691, 25196]
kl30b_g = [2.794, 2.863, 2.956]
kl20_t = [36190, 35341, 34370, 32186, 29759, 27332, 24905, 23400, 20000]
kl20_g = [4.299, 4.124, 4.031, 3.815, 3.598, 3.397, 3.188, 3.091, 2.791]
kl20b_t = [23400, 24662, 26118]
kl20b_g = [3.091, 3.173, 3.232]
kl15_t = [32234, 31458, 30730, 29031, 27332, 24905, 22356, 20000]
kl15_g = [4.317, 4.155, 4.031, 3.861, 3.691, 3.436, 3.211, 2.992]
kl15b_t = [22356, 23691, 24978]
kl15b_g = [3.211, 3.304, 3.351]
kl10_t = [26895, 26118, 25148, 23691, 21749, 20000]
kl10_g = [4.349, 4.201, 4.016, 3.784, 3.567, 3.394]
kl10b_t = [21993, 21021, 20000]
kl10b_g = [3.462, 3.413, 3.343]
kl_2my_t = [20000, 24905, 29759, 34613, 39467, 42137, 43058, 43058, 42622, 40680, 38739]
kl_2my_g = [4.375, 4.31, 4.235, 4.178, 4.101, 4.031, 3.969, 3.877, 3.807, 3.668, 3.521]
kl_3my_t = [20000, 24905, 29759, 34613, 37525, 38617, 38787, 38617, 37040, 34613, 32186, 28545, 25633]
kl_3my_g = [4.364, 4.286, 4.217, 4.116, 4.016, 3.931, 3.846, 3.776, 3.645, 3.467, 3.304, 3.072, 2.755]
kl_4my_t = [20000, 24905, 29759, 32186, 34370, 35462, 35826, 35535, 34127, 32186, 29759, 27332, 24905, 23448]
kl_4my_g = [4.353, 4.271, 4.186, 4.124, 4.039, 3.954, 3.853, 3.753, 3.614, 3.443, 3.266, 3.08, 2.871, 2.755]
kl_6my_t = [20000, 24905, 27332, 29759, 31215, 31822, 31700, 30730, 29759, 28302, 26118, 24177, 22720]
kl_6my_g = [4.338, 4.201, 4.155, 4.085, 3.985, 3.877, 3.768, 3.645, 3.536, 3.351, 3.15, 2.987, 2.863]
kl_mass_t = [51408, 50995, 49612, 47403, 45486, 41530, 36506, 32283, 26992]
kl_mass_g = [4.112, 4.291, 4.299, 4.31, 4.31, 4.33, 4.372, 4.387, 4.402]
kl_age_t = [40559, 31458, 29031, 27526]
kl_age_g = [3.549, 3.1, 3.219, 3.32]

star_hr = (32100, 5.352, 800, .05)
star_kl = (32113, 3.408, 780, .058)
other_hr = (23880, 4.922)
other_kl = (23934, 2.859)


fig = plt.figure(figsize=(W / 100, H / 100), dpi=100)


def box(l, r, t, b):
    return fig.add_axes([l / W, 1 - b / H, (r - l) / W, (b - t) / H])


def put(x, y, s, **kw):
    kw.setdefault('ha', 'center')
    kw.setdefault('va', 'center')
    fig.text(x / W, 1 - y / H, s, **kw)


a_series = [(a1_w, a1_obs, a1_fit), (a2_w, a2_obs, a2_fit), (a3_w, a3_obs, a3_fit), (a4_w, a4_obs, a4_fit),
            (a5_w, a5_obs, a5_fit), (a6_w, a6_obs, a6_fit), (a7_w, a7_obs, a7_fit), (a8_w, a8_obs, a8_fit),
            (a9_w, a9_obs, a9_fit), (a10_w, a10_obs, a10_fit), (a11_w, a11_obs, a11_fit), (a12_w, a12_obs, a12_fit)]
b_series = [(b1_w, b1_obs, b1_fit), (b2_w, b2_obs, b2_fit), (b3_w, b3_obs, b3_fit), (b4_w, b4_obs, b4_fit),
            (b5_w, b5_obs, b5_fit), (b6_w, b6_obs, b6_fit), (b7_w, b7_obs, b7_fit), (b8_w, b8_obs, b8_fit),
            (b9_w, b9_obs, b9_fit), (b10_w, b10_obs, b10_fit), (b11_w, b11_obs, b11_fit), (b12_w, b12_obs, b12_fit)]
c_series = [(c1_w, c1_obs, c1_red, c1_blue, c1_green), (c2_w, c2_obs, c2_red, c2_blue, c2_green),
            (c3_w, c3_obs, c3_red, c3_blue, c3_green), (c4_w, c4_obs, c4_red, c4_blue, c4_green),
            (c5_w, c5_obs, c5_red, c5_blue, c5_green), (c6_w, c6_obs, c6_red, c6_blue, c6_green),
            (c7_w, c7_obs, c7_red, c7_blue, c7_green), (c8_w, c8_obs, c8_red, c8_blue, c8_green),
            (c9_w, c9_obs, c9_red, c9_blue, c9_green)]

cols_a = [(77.9, 209.4), (242.4, 374), (407.4, 538.6)]
rows_a = [(19, 85), (120.7, 186.3), (222.7, 288.3), (324.7, 390.3)]
rows_b = [(498, 564), (599.7, 665.7), (701.7, 767.3), (803.3, 869.3)]
cols_c = [(695.8, 828.1), (872.8, 1005.1), (1049.1, 1181.4)]
rows_c = [(969.7, 1053.7), (1104.7, 1187.7), (1239.7, 1322.7)]


def style_small(ax, i, xlims, ylims, xticks, yticks, title, size, tsize, tpad, fmt='%.1f'):
    ax.set_xlim(xlims[i])
    ax.set_ylim(ylims[i])
    ax.set_xticks(xticks[i])
    ax.set_yticks(yticks[i])
    ax.set_yticklabels([fmt % v for v in yticks[i]])
    ax.tick_params(labelsize=size, length=2.5, width=.7, pad=2, colors='#222222')
    ax.set_title(title[i], fontsize=tsize, pad=tpad, color='#111111')
    for s in ax.spines.values():
        s.set_linewidth(.9)
        s.set_color('#333333')


for rows, data, ylims, yticks in [(rows_a, a_series, ylims_a, yticks_a), (rows_b, b_series, ylims_b, yticks_b)]:
    for i in range(12):
        ax = box(cols_a[i % 3][0], cols_a[i % 3][1], rows[i // 3][0], rows[i // 3][1])
        w, obs, fit = data[i]
        ax.plot(w, obs, color='k', lw=.9)
        ax.plot(w, fit, color='red', lw=.9)
        style_small(ax, i, xlims_a, ylims, xticks_a, yticks, titles_a, 6.4, 9.6, 4.2)

for i in range(9):
    ax = box(cols_c[i % 3][0], cols_c[i % 3][1], rows_c[i // 3][0], rows_c[i // 3][1])
    w, obs, red, blue, green = c_series[i]
    ax.plot(w, green, color='#8fd18f', lw=.8, ls=':')
    ax.plot(w, blue, color='#8080ff', lw=.6, alpha=.7)
    ax.plot(w, obs, color='k', lw=.6, alpha=.75)
    ax.plot(w, red, color='red', lw=.6)
    style_small(ax, i, xlims_c, ylims_c, xticks_c, yticks_c, titles_c, 8.6, 10.6, 6, ytickfmt_c[i])

put(45, 203, "Normalized flux", rotation=90, fontsize=12.8)
put(45, 683, "Normalized flux", rotation=90, fontsize=12.8)
put(652, 1147, "Normalized flux", rotation=90, fontsize=12.8)
put(308.6, 416.7, r"Wavelength [$\AA$]", fontsize=12)
put(308.6, 896, r"Wavelength [$\AA$]", fontsize=12)
put(938, 1361, r"Wavelength [$\AA$]", fontsize=13)


def heatmap(ax, ts, gs, rows):
    dx = ts[1] - ts[0]
    z = np.array(rows)
    top, bot = gs[0], gs[-1]
    dy = (top - bot) / (len(gs) - 1)
    ax.imshow(z, cmap='viridis', vmin=0, vmax=1, aspect='auto', interpolation='bicubic',
              extent=[ts[0] - dx / 2, ts[-1] + dx / 2, bot - dy / 2, top + dy / 2])


def contour_text(ax, t, g, s, rot):
    ax.text(t, g, s, fontsize=8, rotation=rot, ha='center', va='center', color='k')


ax = box(640.3, 1131.3, 6.7, 372.7)
heatmap(ax, map1_t, map1_g, [map1_row0, map1_row1, map1_row2, map1_row3, map1_row4, map1_row5, map1_row6, map1_row7, map1_row8])
for t, g in [(m1_3s_t1, m1_3s_g1), (m1_3s_t2, m1_3s_g2), (m1_2s_t1, m1_2s_g1), (m1_2s_t2, m1_2s_g2),
             (m1_1s_t, m1_1s_g), (m1_1b_t, m1_1b_g), (m1_2b_t, m1_2b_g), (m1_loop_t, m1_loop_g)]:
    ax.plot(t, g, color='k', lw=1.6)
contour_text(ax, 32007, 3.431, r"3-$\sigma$", 30)
contour_text(ax, 31274, 3.316, r"2-$\sigma$", 38)
contour_text(ax, 32248, 3.36, r"1-$\sigma$", 5)
contour_text(ax, 30667, 3.211, r"1-$\sigma$", 10)
contour_text(ax, 31864, 3.211, r"2-$\sigma$", 0)
ax.plot(best1[0], best1[1], '+', color='red', ms=15, mew=4)
ax.set_xlim(29000, 36000)
ax.set_ylim(3.2, 3.996)
ax.set_yticks([3.2, 3.3, 3.4, 3.5, 3.6, 3.7, 3.8, 3.9])
ax.tick_params(labelsize=9.5, length=3, pad=4)
put(885, 410.7, "Effective temperature [K]", fontsize=13.6)
put(592, 191.7, "log g", rotation=90, fontsize=13.6)

ax = box(640.3, 1131.3, 486, 851.7)
heatmap(ax, map2_t, map2_g, [map2_row0, map2_row1, map2_row2, map2_row3, map2_row4, map2_row5])
for t, g in [(m2_3s_t, m2_3s_g), (m2_loopa_t, m2_loopa_g), (m2_loopb_t, m2_loopb_g), (m2_2s_t, m2_2s_g), (m2_1s_t, m2_1s_g)]:
    ax.plot(t, g, color='k', lw=1.6)
contour_text(ax, 24124, 2.876, r"2-$\sigma$", 18)
contour_text(ax, 24606, 2.786, r"3-$\sigma$", 5)
contour_text(ax, 24026, 2.79, r"1-$\sigma$", 45)
ax.plot(best2[0], best2[1], '+', color='red', ms=15, mew=4)
ax.set_xlim(20000, 26000)
ax.set_ylim(2.5, 3.491)
ax.set_yticks([2.6, 2.8, 3.0, 3.2, 3.4])
ax.tick_params(labelsize=9.5, length=3, pad=4)
put(885, 890, "Effective temperature [K]", fontsize=13.6)
put(592, 670, "log g", rotation=90, fontsize=13.6)

# SED
ax = box(86.2, 564.5, 963.3, 1318.7)
ax.set_xscale('log')
ax.set_yscale('log')
ax.fill_between(sed_wave, sed_low, sed_flux, color='k', lw=0)
ax.plot(sed_wave, sed_flux, color='k', lw=1.8)
ax.vlines(10 ** np.array(line_logw), 10 ** np.array(line_low), 10 ** np.array(line_top), color='k', lw=1.8)
ax.errorbar(phot_wave, phot_flux, yerr=phot_err, fmt='o', color='red', ms=5, capsize=2.5, elinewidth=1.2, zorder=5)
ax.set_xlim(2549, 25080)
ax.set_ylim(7.1e-17, 4.66e-14)
ax.set_xticks([3000, 4000, 6000, 10000, 20000])
ax.set_xticklabels([r"$3\times10^{3}$", r"$4\times10^{3}$", r"$6\times10^{3}$", r"$10^{4}$", r"$2\times10^{4}$"])
ax.set_xticks([5000, 7000, 8000, 9000], minor=True)
ax.set_xticklabels([], minor=True)
ax.set_yticks([1e-16, 1e-15, 1e-14])
ax.set_yticklabels([r"$10^{-16}$", r"$10^{-15}$", r"$10^{-14}$"])
ax.tick_params(labelsize=11, colors='#222222')
for s in ax.spines.values():
    s.set_linewidth(1.6)
put(325, 1357, r"Wavelength [$\mathrm{\AA}$]", fontsize=13, family='cmss10')
put(26, 1142, r"Flux [erg/s/cm$^{2}$/$\mathrm{\AA}$]", fontsize=13, family='cmss10', rotation=90)
put(502, 1040, "VFTS 652", fontsize=14.5, family='cmss10')


def tracks(ax, thin, zams, isochrones, mass_t, mass_l, age_t, age_l, star, other):
    for t, v in thin:
        ax.plot(t, v, color='k', lw=1.1)
    ax.plot(zams[0], zams[1], color='k', lw=2.4)
    for t, v in isochrones:
        ax.plot(t, v, color='#444444', lw=1.5, ls=(0, (4, 2)))
    for s, t, v in zip(hr_mass, mass_t, mass_l):
        ax.text(t, v, s, fontsize=14.5, family='cmss10', ha='center', va='center')
    for s, t, v in zip(ages, age_t, age_l):
        ax.text(t, v, s, fontsize=9.3, family='cmss10', ha='center', va='center', color='#555555')
    h = ax.errorbar(star[0], star[1], xerr=star[2], yerr=star[3], fmt='o', color='k', ms=7, elinewidth=1.4, zorder=6)
    ax.plot(other[0], other[1], 'D', mfc='white', mec='k', ms=7, mew=1, zorder=6)
    ax.set_xticks([50000, 45000, 40000, 35000, 30000, 25000, 20000])
    ax.set_xticklabels(['50000', '45000', '40000', '35000', '30000', '25000', '20000'], family='cmr10')
    ax.tick_params(labelsize=12, colors='#333333', length=3.5)
    for s in ax.spines.values():
        s.set_linewidth(1.6)
    return h


ax = box(59.3, 551.4, 1430, 1796.7)
hr_thin = [(hr80_t, hr80_l), (hr70_t, hr70_l), (hr60_t, hr60_l), (hr50_t, hr50_l), (hr40_t, hr40_l), (hr30_t, hr30_l),
           (hr30b_t, hr30b_l), (hr20_t, hr20_l), (hr20b_t, hr20b_l), (hr15_t, hr15_l), (hr15b_t, hr15b_l),
           (hr10_t, hr10_l), (hr10b_t, hr10b_l)]
hr_iso = [(hr_2my_t, hr_2my_l), (hr_3my_t, hr_3my_l), (hr_4my_t, hr_4my_l), (hr_6my_t, hr_6my_l)]
h = tracks(ax, hr_thin, (hr_zams_t, hr_zams_l), hr_iso, hr_mass_t, hr_mass_l, hr_age_t, hr_age_l, star_hr, other_hr)
ax.set_xlim(52370, 20000)
ax.set_ylim(3.178, 6.307)
ax.set_yticks([3.5, 4.0, 4.5, 5.0, 5.5, 6.0])
ax.set_yticklabels(['3.5', '4.0', '4.5', '5.0', '5.5', '6.0'], family='cmr10')
ax.legend([h], ["VFTS 652 , initial rotational velocity = 200.0 km/s"], loc='lower left',
          prop={'family': 'cmss10', 'size': 9.9}, borderaxespad=.55, handletextpad=1.2)
put(303.5, 1836.7, "Effective temperature [K]", fontsize=13.2, family='cmss10')
put(12, 1615, r"log (L/L$_{\odot}$)", rotation=90, fontsize=13.2, family='cmss10')

ax = box(683.6, 1175.7, 1430, 1796.7)
kl_thin = [(kl80_t, kl80_g), (kl70_t, kl70_g), (kl60_t, kl60_g), (kl50_t, kl50_g), (kl40_t, kl40_g), (kl30_t, kl30_g),
           (kl30b_t, kl30b_g), (kl20_t, kl20_g), (kl20b_t, kl20b_g), (kl15_t, kl15_g), (kl15b_t, kl15b_g),
           (kl10_t, kl10_g), (kl10b_t, kl10b_g)]
kl_iso = [(kl_2my_t, kl_2my_g), (kl_3my_t, kl_3my_g), (kl_4my_t, kl_4my_g), (kl_6my_t, kl_6my_g)]
tracks(ax, kl_thin, (kl_zams_t, kl_zams_g), kl_iso, kl_mass_t, kl_mass_g, kl_age_t, kl_age_g, star_kl, other_kl)
ax.set_xlim(52280, 20000)
ax.set_ylim(4.45, 2.747)
ax.set_yticks([2.8, 3.0, 3.2, 3.4, 3.6, 3.8, 4.0, 4.2, 4.4])
ax.set_yticklabels(['2.8', '3.0', '3.2', '3.4', '3.6', '3.8', '4.0', '4.2', '4.4'], family='cmr10')
put(928, 1836.7, "Effective temperature [K]", fontsize=13, family='cmss10')
put(638.5, 1613, "log g", rotation=90, fontsize=13, family='cmss10')

fig.savefig("out.png", dpi=100)
